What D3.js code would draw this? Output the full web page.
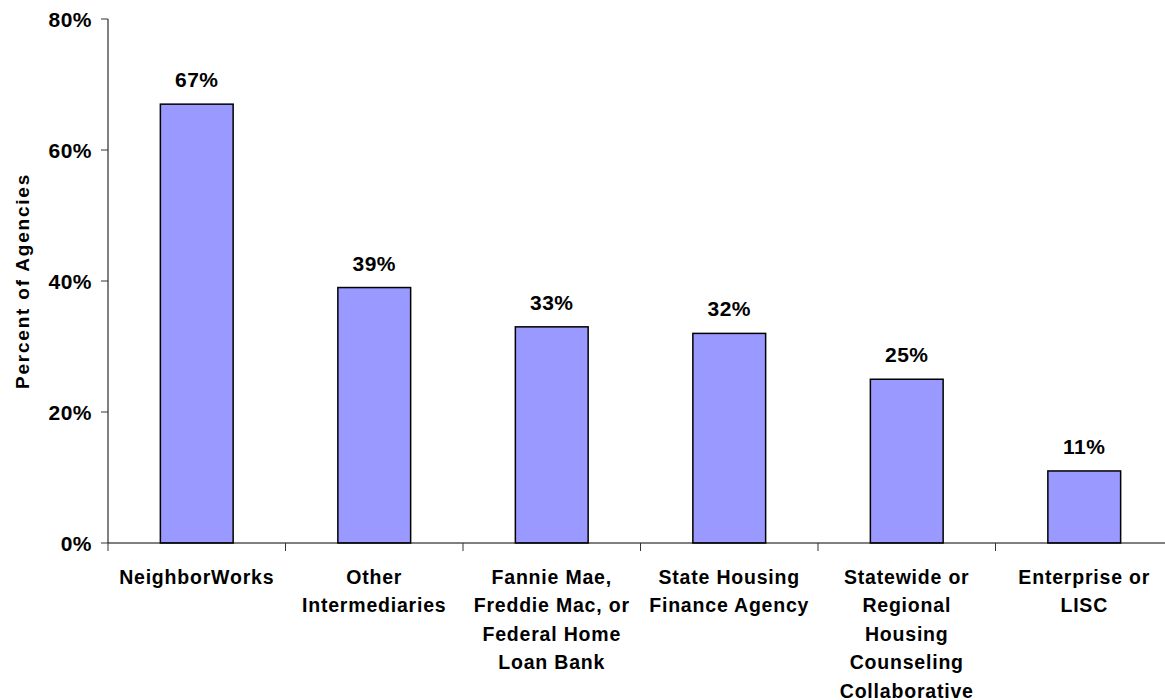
<!DOCTYPE html>
<meta charset="utf-8">
<style>
  body {
    margin: 0;
    background-color: white;
  }

  .tickLabel, .valueLabel {
    font-family: "Liberation Sans", Arial, Helvetica, sans-serif;
    font-size: 21px;
    font-weight: bold;
    letter-spacing: 0.5px;
    fill: black;
  }

  .catLabel {
    font-family: "Liberation Sans", Arial, Helvetica, sans-serif;
    font-size: 19.5px;
    font-weight: bold;
    letter-spacing: 0.8px;
    fill: black;
  }

  .yTitle {
    font-family: "Liberation Sans", Arial, Helvetica, sans-serif;
    font-size: 19px;
    font-weight: bold;
    letter-spacing: 1.8px;
    fill: black;
  }

  .bar {
    fill: #9999ff;
    stroke: black;
    stroke-width: 1.5px;
  }
</style>

<body>

  <!-- load the d3.js library -->
  <script src="https://cdn.jsdelivr.net/npm/d3@7"></script>
  <script>

    // chart data
    var categories = ["NeighborWorks", "Other Intermediaries",
      "Fannie Mae, Freddie Mac, or Federal Home Loan Bank",
      "State Housing Finance Agency",
      "Statewide or Regional Housing Counseling Collaborative",
      "Enterprise or LISC"];
    var labelLines = [
      ["NeighborWorks"],
      ["Other", "Intermediaries"],
      ["Fannie Mae,", "Freddie Mac, or", "Federal Home", "Loan Bank"],
      ["State Housing", "Finance Agency"],
      ["Statewide or", "Regional", "Housing", "Counseling", "Collaborative"],
      ["Enterprise or", "LISC"]
    ];
    var values = [67, 39, 33, 32, 25, 11];
    var yTicks = [0, 20, 40, 60, 80];

    // dimensions (note: "top" is reserved on window, so use plotTop)
    var width = 1165, height = 700;
    var plotLeft = 108, plotTop = 19, plotBottom = 543;
    var step = 177.5;

    var svg = d3.select("body").append("svg")
      .attr("width", width)
      .attr("height", height);

    // set the ranges
    var x = d3.scaleBand()
      .domain(categories)
      .range([plotLeft, plotLeft + step * categories.length])
      .padding(0);
    var y = d3.scaleLinear()
      .domain([0, 80])
      .range([plotBottom, plotTop]);

    var barW = x.bandwidth() * 0.41;

    // bars
    svg.selectAll(".bar")
      .data(values)
      .enter().append("rect")
      .attr("class", "bar")
      .attr("x", function (d, i) { return x(categories[i]) + x.bandwidth() / 2 - barW / 2; })
      .attr("y", function (d) { return y(d); })
      .attr("width", barW)
      .attr("height", function (d) { return y(0) - y(d); });

    // value labels
    svg.selectAll(".valueLabel")
      .data(values)
      .enter().append("text")
      .attr("class", "valueLabel")
      .attr("text-anchor", "middle")
      .attr("x", function (d, i) { return x(categories[i]) + x.bandwidth() / 2; })
      .attr("y", function (d) { return y(d) - 17; })
      .text(function (d) { return d + "%"; });

    // y axis
    svg.append("line")
      .attr("x1", plotLeft).attr("x2", plotLeft)
      .attr("y1", y(80)).attr("y2", y(0))
      .attr("stroke", "black");

    svg.selectAll(".yTick")
      .data(yTicks)
      .enter().append("line")
      .attr("class", "yTick")
      .attr("x1", plotLeft - 7).attr("x2", plotLeft)
      .attr("y1", function (d) { return y(d); })
      .attr("y2", function (d) { return y(d); })
      .attr("stroke", "#333");

    svg.selectAll(".tickLabel")
      .data(yTicks)
      .enter().append("text")
      .attr("class", "tickLabel")
      .attr("text-anchor", "end")
      .attr("x", 92)
      .attr("y", function (d) { return y(d) + 7.5; })
      .text(function (d) { return d + "%"; });

    // x axis
    svg.append("line")
      .attr("x1", plotLeft).attr("x2", width)
      .attr("y1", y(0)).attr("y2", y(0))
      .attr("stroke", "black");

    svg.selectAll(".xTick")
      .data(categories)
      .enter().append("line")
      .attr("class", "xTick")
      .attr("x1", function (d) { return x(d); })
      .attr("x2", function (d) { return x(d); })
      .attr("y1", y(0)).attr("y2", y(0) + 8)
      .attr("stroke", "#333");

    // category labels
    var cat = svg.selectAll(".catLabel")
      .data(labelLines)
      .enter().append("text")
      .attr("class", "catLabel")
      .attr("text-anchor", "middle")
      .attr("x", function (d, i) { return x(categories[i]) + x.bandwidth() / 2; })
      .attr("y", y(0) + 41);

    cat.selectAll("tspan")
      .data(function (d) { return d; })
      .enter().append("tspan")
      .attr("x", function () { return d3.select(this.parentNode).attr("x"); })
      .attr("dy", function (d, i) { return i == 0 ? 0 : 28.4; })
      .text(function (d) { return d; });

    // y label
    svg.append("text")
      .attr("class", "yTitle")
      .attr("text-anchor", "middle")
      .attr("transform", "translate(29," + ((plotTop + plotBottom) / 2) + ") rotate(-90)")
      .text("Percent of Agencies");

  </script>
</body>

</html>
